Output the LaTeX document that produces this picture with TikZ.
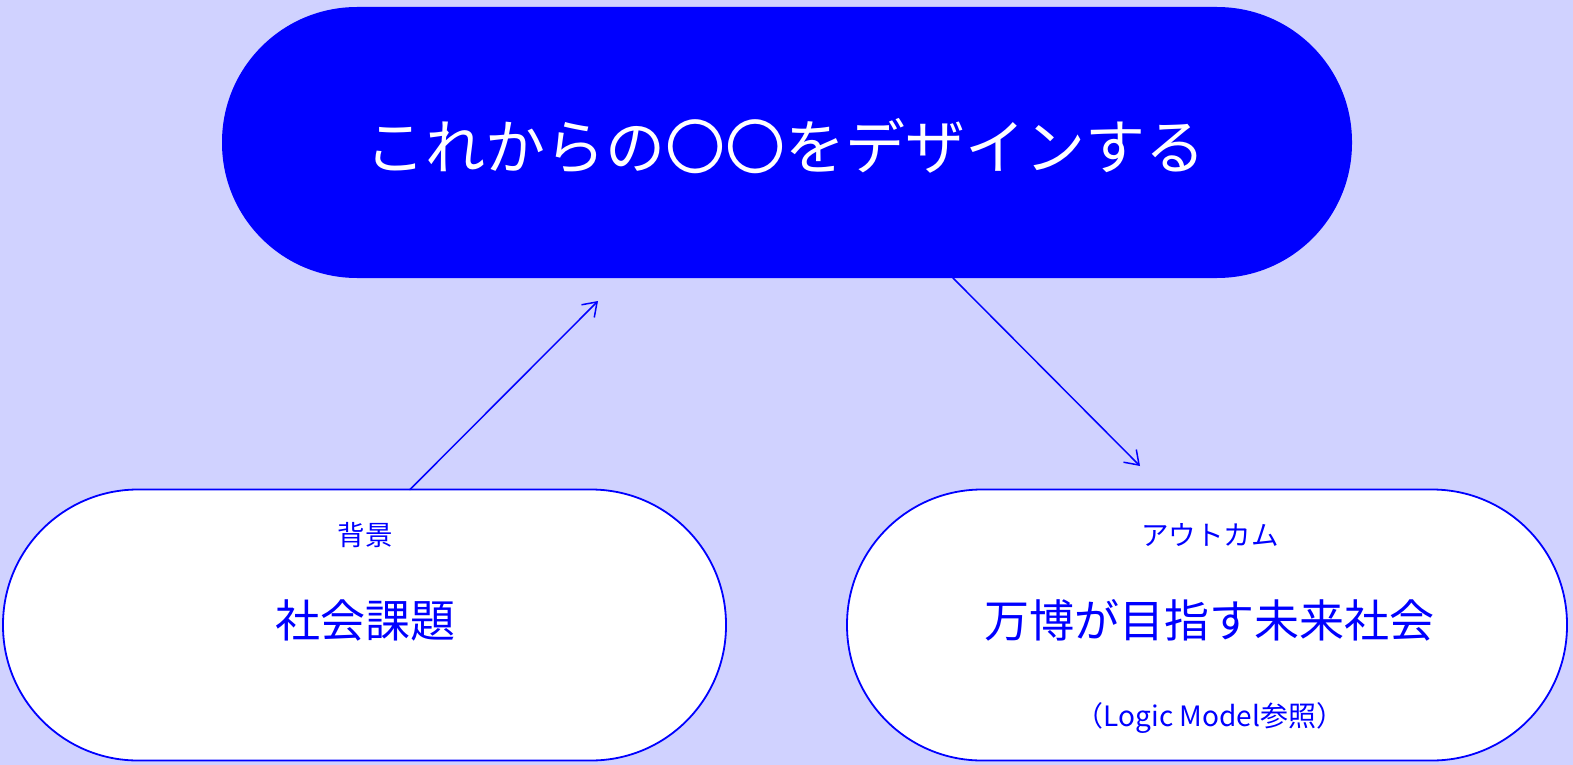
\documentclass[tikz,border=0pt]{standalone}
\usepackage{fontspec}
\newfontfamily\jp{Noto Sans CJK JP}
\usetikzlibrary{arrows.meta,calc}
\definecolor{bg}{RGB}{208,210,255}
\definecolor{pblue}{RGB}{0,0,255}
\begin{document}
\begin{tikzpicture}[x=1pt,y=-1pt,
  pill/.style={rectangle, rounded corners=135pt, minimum height=271pt, inner sep=0pt, outer sep=0pt},
  mainpill/.style={pill, fill=pblue, draw=none},
  subpill/.style={pill, fill=white, draw=pblue, line width=1.8pt},
  toptext/.style={text=white, font=\jp\fontsize{60}{62}\selectfont, inner sep=0pt},
  smalltext/.style={text=pblue, font=\jp\fontsize{27.5}{30}\selectfont, inner sep=0pt},
  bigtext/.style={text=pblue, font=\jp\fontsize{45}{48}\selectfont, inner sep=0pt},
  notetext/.style={text=pblue, font=\jp\fontsize{28}{30}\selectfont, inner sep=0pt},
  conn/.style={draw=pblue, line width=1.5pt, line cap=round, -{Straight Barb[length=13pt,width=18pt,line width=1.5pt]}}
]
\useasboundingbox (0,0) rectangle (1573,765);
\fill[bg] (0,0) rectangle (1573,765);

\node[mainpill, minimum width=1130pt] (top) at (787,142.5) {};
\node[subpill, minimum width=723pt] (bl) at (364.5,625) {};
\node[subpill, minimum width=720pt] (br) at (1207,625) {};

\node[toptext] (tt) at (785,146) {これからの〇〇をデザインする};

\node[smalltext] (bg1) at (365,535) {背景};
\node[bigtext] (bg2) at (365,620) {社会課題};

\node[smalltext] (oc1) at (1210,535) {アウトカム};
\node[bigtext] (oc2) at (1209,620) {万博が目指す未来社会};
\node[notetext] (oc3) at (1210,718) {（Logic Model参照）};

\coordinate (a1end) at (598,301);
\coordinate (a2end) at (1140,466);
\draw[conn] ($(bl.north)+(45.5,0)$) -- (a1end);
\draw[conn] ($(top.south)+(166,0)$) -- (a2end);
\end{tikzpicture}
\end{document}
